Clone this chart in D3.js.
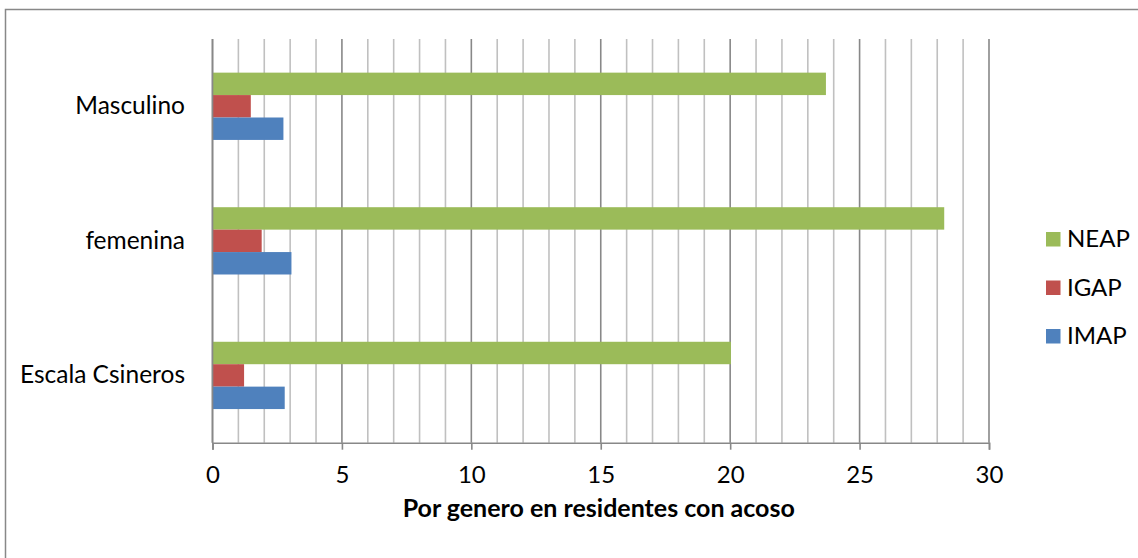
<!DOCTYPE html>
<html><head><meta charset="utf-8">
<script src="https://cdn.jsdelivr.net/npm/d3@7"></script>
<style>body{margin:0;background:#fff}svg{display:block}text{font-family:Lato,"Open Sans",sans-serif;fill:#000}</style>
</head><body><svg id="c" width="1138" height="558"></svg>
<script>
const categories = ["Masculino", "femenina", "Escala Csineros"];
const seriesNames = ["NEAP", "IGAP", "IMAP"];
const NEAP = [23.7, 28.27, 20.03];
const IGAP = [1.48, 1.9, 1.22];
const IMAP = [2.74, 3.05, 2.79];
const xTicks = [0, 5, 10, 15, 20, 25, 30];
const colors = {NEAP: "#9BBB59", IGAP: "#C0504D", IMAP: "#4F81BD"};
const xTitle = "Por genero en residentes con acoso";

const series = {NEAP, IGAP, IMAP};
const svg = d3.select("#c");
const L = 212.5, R = 989, T = 39, B = 442.7;

svg.append("rect").attr("x", 5.5).attr("y", 9.5).attr("width", 1140).attr("height", 560)
  .attr("fill", "#fff").attr("stroke", "#888").attr("stroke-width", 1.5);

const x = d3.scaleLinear().domain([0, 30]).range([L, R]);
const y = d3.scaleBand().domain(categories).range([T, B]);
const yIn = d3.scaleBand().domain(seriesNames).range([0, y.bandwidth() / 2]);

const g = svg.append("g");
g.selectAll("line.minor").data(d3.range(1, 31).filter(v => v % 5 !== 0)).join("line")
  .attr("x1", d => x(d)).attr("x2", d => x(d)).attr("y1", T).attr("y2", B)
  .attr("stroke", "#c0c0c0").attr("stroke-width", 1.6);
g.selectAll("line.major").data(xTicks).join("line")
  .attr("x1", d => x(d)).attr("x2", d => x(d)).attr("y1", T).attr("y2", B)
  .attr("stroke", "#888").attr("stroke-width", 1.6);

categories.forEach((c, i) => {
  const y0 = y(c) + y.bandwidth() / 4;
  seriesNames.forEach(s => {
    svg.append("rect").attr("x", x(0)).attr("y", y0 + yIn(s))
      .attr("width", x(series[s][i]) - x(0)).attr("height", yIn.bandwidth())
      .attr("fill", colors[s]);
  });
});

const ax = svg.append("g").attr("transform", `translate(0,${B})`)
  .call(d3.axisBottom(x).tickValues(xTicks).tickSize(7).tickPadding(16).tickFormat(d3.format("d")));
ax.select(".domain").attr("stroke", "#888").attr("stroke-width", 1.6);
ax.selectAll(".tick line").attr("stroke", "#888").attr("stroke-width", 1.6);
ax.selectAll(".tick text").attr("font-size", 24).attr("font-family", "Lato").attr("fill", "#000");
svg.append("line").attr("x1", L).attr("x2", L).attr("y1", T).attr("y2", B).attr("stroke", "#888").attr("stroke-width", 1.6);

svg.selectAll("text.cat").data(categories).join("text")
  .attr("x", 185).attr("y", d => y(d) + y.bandwidth() / 2 + 8)
  .attr("text-anchor", "end").attr("font-size", 24.5).text(d => d);

svg.append("text").attr("x", (L + R) / 2 - 2).attr("y", 517).attr("text-anchor", "middle")
  .attr("font-size", 25).attr("font-weight", "bold").text(xTitle);

const lg = svg.append("g");
seriesNames.forEach((s, i) => {
  const yy = 232 + i * 48.5;
  lg.append("rect").attr("x", 1046).attr("y", yy).attr("width", 14.5).attr("height", 14.5).attr("fill", colors[s]);
  lg.append("text").attr("x", 1067).attr("y", yy + 15).attr("font-size", 24).text(s);
});
</script></body></html>
